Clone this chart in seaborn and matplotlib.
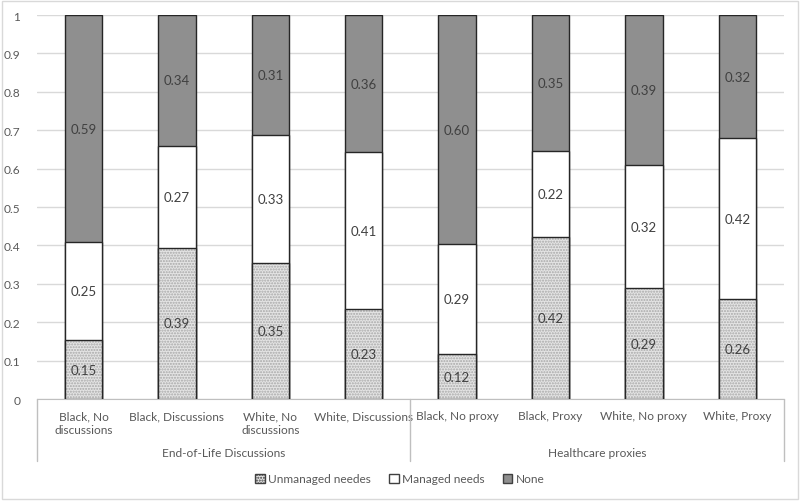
import numpy as np
import pandas as pd
import matplotlib
matplotlib.use("Agg")
import matplotlib.pyplot as plt
from matplotlib.patches import Patch, Rectangle
import seaborn as sns

# === Data ===
categories = ["Black, No\ndiscussions", "Black, Discussions", "White, No\ndiscussions",
              "White, Discussions", "Black, No proxy", "Black, Proxy",
              "White, No proxy", "White, Proxy"]
groups = ["End-of-Life Discussions", "Healthcare proxies"]
unmanaged = [0.154, 0.394, 0.354, 0.234, 0.117, 0.422, 0.289, 0.260]
managed = [0.254, 0.266, 0.334, 0.409, 0.287, 0.224, 0.320, 0.420]
none = [0.592, 0.340, 0.312, 0.357, 0.596, 0.354, 0.391, 0.320]
series_names = ["Unmanaged needes", "Managed needs", "None"]
yticks = [0, 0.1, 0.2, 0.3, 0.4, 0.5, 0.6, 0.7, 0.8, 0.9, 1]

df = pd.DataFrame({"cat": categories, "unmanaged": unmanaged,
                   "managed": managed, "none": none})
df["top_managed"] = df["unmanaged"] + df["managed"]
df["top_none"] = df["top_managed"] + df["none"]

sns.set_style("white")
plt.rcParams["font.family"] = ["Lato", "DejaVu Sans"]

fig = plt.figure(figsize=(8, 5.02), dpi=100)
ax = fig.add_axes([0.046, 0.203, 0.934, 0.765])

edge = "#262626"
c_none = "#8f8f8f"
c_unm = "#e4e4e4"
fs = 9.5
fs_ax = 8.6

# stacked bars drawn back-to-front as cumulative totals
sns.barplot(data=df, x="cat", y="top_none", color=c_none, width=0.4,
            edgecolor=edge, linewidth=1.0, saturation=1, ax=ax, zorder=2)
sns.barplot(data=df, x="cat", y="top_managed", color="white", width=0.4,
            edgecolor=edge, linewidth=1.0, saturation=1, ax=ax, zorder=3)
sns.barplot(data=df, x="cat", y="unmanaged", color=c_unm, width=0.4,
            edgecolor="#a8a8a8", linewidth=0, hatch="......", saturation=1,
            ax=ax, zorder=4)
sns.barplot(data=df, x="cat", y="unmanaged", fill=False, width=0.4,
            edgecolor=edge, linewidth=1.0, ax=ax, zorder=5)

# value labels
for i in range(len(categories)):
    segs = [(0, unmanaged[i]), (unmanaged[i], managed[i]),
            (unmanaged[i] + managed[i], none[i])]
    for b, v in segs:
        ax.text(i, b + v / 2, f"{v:.2f}", ha="center", va="center",
                fontsize=fs, color="#404040", zorder=6)

ax.set_ylim(0, 1)
ax.set_xlim(-0.5, len(categories) - 0.5)
ax.set_yticks(yticks)
ax.set_yticklabels([f"{t:g}" for t in yticks])
ax.yaxis.grid(True, color="#d9d9d9", linewidth=1, zorder=0)
ax.set_axisbelow(True)
ax.set_xlabel("")
ax.set_ylabel("")
ax.tick_params(axis="both", length=0, labelsize=fs_ax, colors="#595959")
ax.tick_params(axis="x", pad=8)
ax.tick_params(axis="y", pad=12)
for lbl in ax.get_xticklabels():
    lbl.set_linespacing(1.35)
for s in ["left", "right", "top"]:
    ax.spines[s].set_visible(False)
ax.spines["bottom"].set_color("#bfbfbf")

# two-level axis: separators and group labels
trans = ax.get_xaxis_transform()
for xs in [-0.5, 3.5, 7.5]:
    ax.plot([xs, xs], [0, -0.16], transform=trans, color="#bfbfbf",
            linewidth=1, clip_on=False)
for gi, g in enumerate(groups):
    ax.text(1.5 + 4 * gi, -0.14, g, transform=trans, ha="center",
            va="center", fontsize=fs_ax, color="#595959")

handles = [Patch(facecolor=c_unm, edgecolor="#404040", hatch="......"),
           Patch(facecolor="white", edgecolor="#404040"),
           Patch(facecolor=c_none, edgecolor="#404040")]
fig.legend(handles, series_names, loc="center", bbox_to_anchor=(0.5, 0.044),
           ncol=3, frameon=False, fontsize=fs_ax, handlelength=0.8,
           handleheight=0.8, handletextpad=0.3, columnspacing=1.5,
           labelcolor="#595959")

fig.patches.append(Rectangle((0.003, 0.004), 0.994, 0.992,
                             transform=fig.transFigure, fill=False,
                             edgecolor="#d9d9d9", linewidth=1))

fig.savefig("out.png", dpi=100)
